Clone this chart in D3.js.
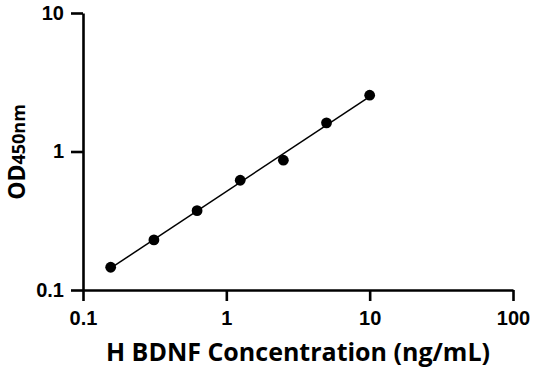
<!DOCTYPE html>
<html><head><meta charset="utf-8">
<script src="https://cdn.jsdelivr.net/npm/d3@7"></script>
<style>
html,body{margin:0;padding:0;background:#fff;}
svg text{font-family:"Open Sans",sans-serif;font-weight:700;fill:#000;}
</style></head>
<body><svg id="c" width="536" height="371"></svg>
<script>
const concentrations = [0.156, 0.3125, 0.625, 1.25, 2.5, 5, 10];
const odValues = [0.146, 0.230, 0.374, 0.620, 0.865, 1.61, 2.55];
const xTicks = [0.1, 1, 10, 100];
const yTicks = [0.1, 1, 10];
const xTickLabels = ["0.1", "1", "10", "100"];
const yTickLabels = ["0.1", "1", "10"];

const svg = d3.select("#c");
const x = d3.scaleLog().domain([0.1, 100]).range([83, 513]);
const y = d3.scaleLog().domain([0.1, 10]).range([290, 13]);

const xa = svg.append("g").attr("transform", "translate(0,290)")
  .call(d3.axisBottom(x).tickValues(xTicks).tickSize(11).tickSizeOuter(0)
    .tickFormat((d, i) => xTickLabels[i]).tickPadding(10));
const ya = svg.append("g").attr("transform", "translate(83,0)")
  .call(d3.axisLeft(y).tickValues(yTicks).tickSize(12).tickSizeOuter(0)
    .tickFormat((d, i) => yTickLabels[i]).tickPadding(7));
[xa, ya].forEach(a => {
  a.select(".domain").attr("stroke", "#000").attr("stroke-width", 2.6);
  a.selectAll(".tick line").attr("stroke", "#000").attr("stroke-width", 2.6);
  a.selectAll(".tick text").style("font-size", "20px")
    .style("font-family", "'Liberation Sans',Arial,sans-serif").style("font-weight", 700);
});

// log-log linear fit of the standard curve
const lx = concentrations.map(Math.log10), ly = odValues.map(Math.log10);
const mx = d3.mean(lx), my = d3.mean(ly);
const slope = d3.sum(lx.map((v, i) => (v - mx) * (ly[i] - my))) / d3.sum(lx.map(v => (v - mx) ** 2));
const icpt = my - slope * mx;
const fitX = [d3.min(concentrations), d3.max(concentrations)];
svg.append("path")
  .attr("d", d3.line().x(d => x(d)).y(d => y(Math.pow(10, icpt + slope * Math.log10(d))))(fitX))
  .attr("fill", "none").attr("stroke", "#000").attr("stroke-width", 1.5);

svg.selectAll("circle.pt").data(concentrations).enter().append("circle")
  .attr("class", "pt").attr("cx", d => x(d)).attr("cy", (d, i) => y(odValues[i]))
  .attr("r", 5.4).attr("fill", "#000");

svg.append("text").attr("x", 298).attr("y", 361).attr("text-anchor", "middle")
  .style("font-size", "25px").text("H BDNF Concentration (ng/mL)");

const yt = svg.append("text").attr("transform", "translate(25,152) rotate(-90)")
  .attr("text-anchor", "middle");
yt.append("tspan").style("font-size", "23px").text("OD");
yt.append("tspan").style("font-size", "18px").text("450nm");
</script></body></html>
